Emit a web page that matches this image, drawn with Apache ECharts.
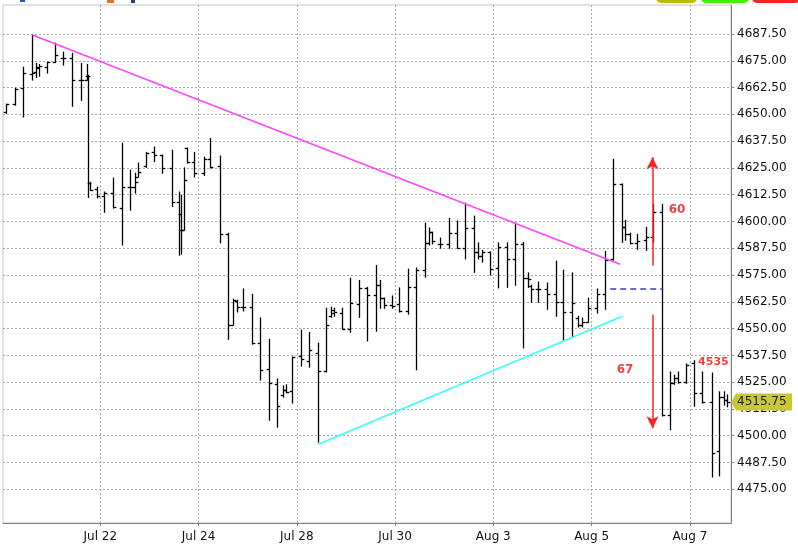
<!DOCTYPE html>
<html><head><meta charset="utf-8">
<script src="https://cdn.jsdelivr.net/npm/echarts@6/dist/echarts.min.js"></script>
<style>html,body{margin:0;padding:0;background:#fff}#c{width:798px;height:548px}</style>
</head><body><div id="c"></div>
<script>
// x position of each bar, in trading days from Jul 20 (0 = start of Jul 20)
const barTime = [0.09,0.27,0.43,0.62,0.70,0.76,0.92,1.08,1.25,1.43,1.61,1.72,1.76,1.80,1.94,2.08,2.26,2.45,2.61,2.71,2.77,2.94,3.10,3.26,3.46,3.61,3.65,3.71,3.77,3.91,4.12,4.24,4.44,4.60,4.71,4.79,4.91,5.09,5.26,5.44,5.60,5.72,5.78,5.91,6.09,6.25,6.44,6.60,6.70,6.76,6.92,7.09,7.27,7.43,7.62,7.70,7.78,7.94,8.08,8.27,8.43,8.61,8.69,8.75,8.92,9.10,9.26,9.43,9.61,9.69,9.77,9.94,10.10,10.28,10.44,10.61,10.71,10.77,10.91,11.09,11.28,11.42,11.60,11.72,11.81,11.93,12.11,12.27,12.44,12.62,12.68,12.78,12.93,13.11,13.25,13.44,13.60,13.68,13.76,13.92,14.08,14.25,14.45,14.59,14.70,14.76];
const barOpen = [4651,4654.75,4662.5,4668.75,4669.75,4671.5,4672,4674.25,4676.5,4676.5,4666,4666,4667.75,4618,4615,4611.75,4613.25,4606.25,4616,4616,4620.75,4625.75,4632.25,4631,4625,4609,4603.5,4596,4634.25,4627.75,4622.5,4629,4625.75,4594,4551.75,4562.75,4560,4560,4543.25,4531,4524,4519,4521.25,4520.75,4537.25,4534.75,4538.5,4530.25,4555.75,4557.25,4557.25,4549.75,4561.5,4569,4565.75,4570.25,4564.25,4561,4561.5,4558.25,4569.25,4577.25,4590,4595,4589.5,4589.5,4594.5,4587.5,4597,4585.75,4583.75,4585.75,4578.25,4588,4582.5,4589.5,4573.5,4569.75,4568.5,4568.5,4566,4562.25,4557.75,4555,4551.75,4553,4559.5,4566,4582.5,4617.5,4597.25,4594,4590,4591.25,4592.75,4604.25,4509.75,4524.5,4527,4525,4534,4520,4515.75,4492.75,4518,4516.75];
const barHigh = [4654.75,4662.25,4672,4687,4673.75,4673.25,4674.25,4683.25,4679,4678.5,4673.75,4673.25,4668.25,4618.25,4616,4613.75,4620.25,4636.5,4624,4622.5,4627.25,4632.25,4634.75,4631,4633.25,4613.75,4612.25,4625,4634.25,4632.25,4630,4638.75,4630.5,4594.5,4563.75,4563.25,4568.5,4566,4555,4545,4526.5,4523.25,4523.75,4536.75,4549.25,4548.25,4543.25,4559.5,4560,4559.5,4559.5,4573.5,4572.5,4569.25,4579.5,4572.5,4564.25,4565.25,4569,4577.75,4578.25,4599.25,4597,4595,4592.25,4601.5,4600.25,4608.5,4602.5,4590,4586.5,4585.75,4590,4590,4599.25,4590.25,4576,4570.25,4571.75,4571.25,4581.5,4577.25,4576,4555.75,4555,4564.25,4568.5,4586,4629,4617.5,4600.5,4594.5,4594,4597.25,4608,4608,4529.75,4528.25,4529.75,4533.5,4535,4529.75,4529.25,4520.5,4520.5,4519];
const barLow = [4650.5,4654.25,4648.75,4666,4667.25,4667.75,4669.25,4674.25,4673,4653.75,4656.5,4666,4611.25,4614.5,4611,4604.25,4606.25,4589,4605.25,4613.25,4620.75,4625.25,4628,4622.5,4607,4584.25,4584.75,4596,4627.25,4620.75,4621.5,4625,4590,4545,4551.75,4557.75,4558.25,4542.75,4526,4507.25,4504,4518,4520,4515.25,4532.5,4532,4497,4529.75,4555.25,4555.75,4549.75,4548.25,4555.25,4544.25,4548.75,4559.5,4559.5,4559.5,4557.75,4556.75,4530.75,4574,4589,4589.5,4587.5,4587.5,4587.5,4582.5,4576.25,4582.5,4581,4575,4569,4569.25,4570.25,4541,4569.25,4562.25,4562.25,4559,4555.75,4544.75,4546,4550.75,4550.75,4553,4557.25,4559,4582,4590.25,4591.25,4589.5,4587,4586.5,4590.25,4509.25,4502.75,4524,4524.5,4524.5,4513.75,4515.25,4480.75,4481.25,4514.25,4513.5];
const barClose = [4654.75,4661.75,4669.25,4669.25,4672,4672.5,4674.25,4677.5,4676.5,4666,4666,4667.75,4618,4614.5,4611.75,4613.25,4606.75,4616,4616,4618.25,4623,4631.75,4631.25,4625,4609,4596,4596,4619.25,4627.75,4622.5,4629,4625.25,4594,4551.75,4563.25,4560,4560,4543.25,4530.5,4524.5,4513.75,4521.25,4520.5,4536.75,4535.75,4540,4530.25,4551.75,4558.5,4557.75,4549.75,4562,4569,4565.75,4570.25,4564.25,4561,4560.5,4558.25,4569.25,4577.25,4590,4595,4590.75,4589.5,4594.5,4587.5,4597,4585.75,4583.75,4585.75,4577.75,4588,4582.5,4589.5,4573.5,4573,4568.5,4568.5,4566,4562.25,4557.75,4562,4551.75,4553,4559.5,4566,4582,4617.5,4597.25,4594,4590,4590.75,4592.75,4604.25,4509.75,4524.5,4527,4525,4533,4520,4515.75,4492,4518,4516.75,4515.75];

const xTickPos = [2,4,6,8,10,12,14];
const xTickLabels = ['Jul 22','Jul 24','Jul 28','Jul 30','Aug 3','Aug 5','Aug 7'];
const yTicks = [4475,4487.5,4500,4512.5,4525,4537.5,4550,4562.5,4575,4587.5,4600,4612.5,4625,4637.5,4650,4662.5,4675,4687.5];

const resistLine = [[0.62,4687],[12.58,4580]];
const supportLine = [[6.44,4496],[12.63,4555.75]];
const pivotLine = [[12.38,4568.5],[13.46,4568.5]];
const upArrow = [[13.24,4579.5],[13.24,4630]];
const downArrow = [[13.24,4556.5],[13.24,4503.5]];
const notes = [
  {text:'60', x:13.74, y:4605.5, size:12},
  {text:'67', x:12.68, y:4530.75, size:12},
  {text:'4535', x:14.48, y:4534.5, size:11}
];
const lastPrice = barClose[barClose.length-1];

const FONT = 'DejaVu Sans';
const chart = echarts.init(document.getElementById('c'), null, {renderer:'canvas'});
const ohlc = barTime.map((t,i)=>[t, barOpen[i], barHigh[i], barLow[i], barClose[i]]);

const option = {
  animation:false,
  backgroundColor:'#fff',
  grid:{left:3, right:67, top:5, bottom:25, show:true, borderColor:'#c4c4c4', borderWidth:1, backgroundColor:'#fff'},
  xAxis:{
    type:'value', min:0.02, max:14.838,
    axisLine:{show:true, lineStyle:{color:'#808080', width:1}},
    axisTick:{show:true, length:3, lineStyle:{color:'#808080'}, customValues:xTickPos},
    axisLabel:{customValues:xTickPos, color:'#111', fontSize:12, fontFamily:FONT, margin:8,
      formatter:v=>{const i=xTickPos.indexOf(Math.round(v)); return i>=0?xTickLabels[i]:'';}},
    splitLine:{show:true, lineStyle:{color:'#a8a8a8', type:[2,2], width:1}}
  },
  yAxis:{
    type:'value', position:'right', min:4459.27, max:4701.03, scale:true,
    axisLine:{show:true, lineStyle:{color:'#808080', width:1}},
    axisTick:{show:true, length:3, lineStyle:{color:'#808080'}, customValues:yTicks},
    axisLabel:{customValues:yTicks, color:'#111', fontSize:12, fontFamily:FONT, margin:6,
      formatter:v=>v.toFixed(2)},
    splitLine:{show:true, lineStyle:{color:'#a8a8a8', type:[2,2], width:1}}
  },
  series:[
    {
      type:'custom', name:'OHLC', data:ohlc, clip:true,
      encode:{x:0, y:[1,2,3,4]},
      renderItem:(params, api)=>{
        const x = api.value(0);
        const o = api.coord([x, api.value(1)]);
        const h = api.coord([x, api.value(2)]);
        const l = api.coord([x, api.value(3)]);
        const c = api.coord([x, api.value(4)]);
        const px = Math.round(o[0]) + 0.5;
        const st = {stroke:'#000', lineWidth:1.3};
        return {type:'group', children:[
          {type:'line', shape:{x1:px, y1:h[1]-0.5, x2:px, y2:l[1]+0.5}, style:st},
          {type:'line', shape:{x1:px-2.8, y1:Math.round(o[1])+0.5, x2:px, y2:Math.round(o[1])+0.5}, style:st},
          {type:'line', shape:{x1:px, y1:Math.round(c[1])+0.5, x2:px+2.8, y2:Math.round(c[1])+0.5}, style:st}
        ]};
      }
    },
    {type:'line', data:resistLine, symbol:'none', lineStyle:{color:'#ff44ff', width:1.5}, silent:true, z:3},
    {type:'line', data:supportLine, symbol:'none', lineStyle:{color:'#33ffff', width:1.5}, silent:true, z:3},
    {type:'line', data:pivotLine, symbol:'none', lineStyle:{color:'#3a3ad0', width:1.5, type:[6,4]}, silent:true, z:3},
    {type:'line', data:[], silent:true, z:4,
      markLine:{silent:true, symbol:['none','arrow'], symbolSize:[9,12], animation:false,
        lineStyle:{color:'#ff2020', width:1.5, type:'solid'}, label:{show:false},
        data:[
          [{coord:upArrow[0]},{coord:upArrow[1]}],
          [{coord:downArrow[0]},{coord:downArrow[1]}]
        ]}
    },
    {type:'scatter', symbolSize:0, silent:true, z:5,
      data:notes.map(n=>({value:[n.x,n.y], name:n.text, label:{fontSize:n.size}})),
      label:{show:true, position:'inside', formatter:'{b}', color:'#ee1111', fontWeight:'bold', fontFamily:FONT}
    }
  ]
};
chart.setOption(option);

const py = chart.convertToPixel({yAxisIndex:0}, lastPrice);
const ax = 731;
chart.setOption({graphic:[
  {type:'polygon', z:100, shape:{points:[[ax,py],[ax+5,py-8.5],[ax+61,py-8.5],[ax+61,py+8.5],[ax+5,py+8.5]]},
    style:{fill:'#c8c836'}},
  {type:'text', z:101, x:ax+6, y:py, style:{text:lastPrice.toFixed(2), fill:'#222', font:'12px "DejaVu Sans"', textVerticalAlign:'middle'}},
  {type:'rect', z:100, shape:{x:656, y:-10, width:41, height:13, r:5}, style:{fill:'#bcbc00'}},
  {type:'rect', z:100, shape:{x:701, y:-10, width:48, height:13, r:5}, style:{fill:'#40f000'}},
  {type:'rect', z:100, shape:{x:752, y:-10, width:48, height:13, r:5}, style:{fill:'#ff2020'}},
  {type:'rect', z:100, shape:{x:20, y:0, width:5, height:2}, style:{fill:'#3050c0'}},
  {type:'rect', z:100, shape:{x:107, y:0, width:7, height:3}, style:{fill:'#e07020'}},
  {type:'rect', z:100, shape:{x:131, y:0, width:4, height:3}, style:{fill:'#204080'}}
]});
</script></body></html>
